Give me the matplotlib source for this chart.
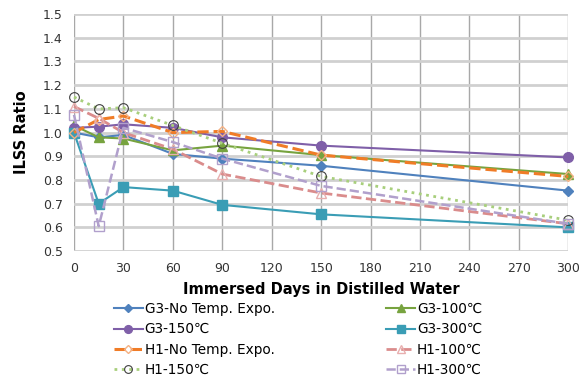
import numpy as np
from matplotlib import pyplot as plt

days = [0, 15, 30, 60, 90, 150, 300]

g3_none = [1.00, 0.98, 0.99, 0.91, 0.89, 0.86, 0.755]
g3_100 = [1.03, 0.98, 0.975, 0.925, 0.945, 0.905, 0.825]
g3_150 = [1.02, 1.025, 1.035, 1.02, 0.98, 0.945, 0.895]
g3_300 = [1.00, 0.70, 0.77, 0.755, 0.695, 0.655, 0.60]
h1_none = [1.00, 1.055, 1.07, 1.00, 1.005, 0.905, 0.815]
h1_100 = [1.11, 1.06, 1.00, 0.93, 0.825, 0.745, 0.615]
h1_150 = [1.15, 1.10, 1.105, 1.03, 0.955, 0.815, 0.63]
h1_300 = [1.075, 0.605, 1.02, 0.96, 0.89, 0.775, 0.615]

fig = plt.figure(figsize=(5.85, 3.81), dpi=100)
ax = fig.add_axes([0.1265, 0.341, 0.845, 0.622])

l1, = ax.plot(days, g3_none, '-', color='#4F81BD', lw=1.5, marker='D', ms=5, label='G3-No Temp. Expo.')
l2, = ax.plot(days, g3_100, '-', color='#77A33F', lw=1.5, marker='^', ms=7, label='G3-100℃')
l3, = ax.plot(days, g3_150, '-', color='#7F5FA8', lw=1.5, marker='o', ms=7, label='G3-150℃')
l4, = ax.plot(days, g3_300, '-', color='#3A9DB5', lw=1.5, marker='s', ms=6.5, label='G3-300℃')
l5, = ax.plot(days, h1_none, '--', color='#F07C27', lw=2.2, marker='D', ms=5.5, mfc='none', mec='#F4B183', label='H1-No Temp. Expo.')
l6, = ax.plot(days, h1_100, '--', color='#DA8C8C', lw=2.0, marker='^', ms=7, mfc='none', mec='#E8AFAF', label='H1-100℃')
l7, = ax.plot(days, h1_150, ':', color='#A8CF7C', lw=2.0, marker='o', ms=7, mfc='none', mec='#404040', mew=0.8, label='H1-150℃')
l8, = ax.plot(days, h1_300, '--', color='#B1A0CC', lw=1.8, marker='s', ms=7, mfc='none', mec='#B1A0CC', label='H1-300℃')
for l in [l1, l2, l3, l4, l5, l6, l7, l8]:
    l.set_clip_on(False)

ax.set_xlim(0, 300)
ax.set_ylim(0.5, 1.5)
ax.set_xticks(np.arange(0, 301, 30))
ax.set_yticks(np.arange(0.5, 1.51, 0.1))
ax.set_yticklabels(['%.1f' % v for v in np.arange(0.5, 1.51, 0.1)])
ax.tick_params(labelsize=9, length=0, colors='#333333', pad=8)
ax.yaxis.grid(True, color='#D0D0D0', lw=2)
ax.xaxis.grid(True, color='#A8A8A8', lw=1)
for s in ax.spines.values():
    s.set_visible(False)
ax.set_axisbelow(True)

ax.set_xlabel('Immersed Days in Distilled Water', fontsize=10.5, fontweight='bold', labelpad=5)
ax.set_ylabel('ILSS Ratio', fontsize=10.5, fontweight='bold', labelpad=10)

order = [l1, l3, l5, l7, l2, l4, l6, l8]
leg = ax.legend(order, [l.get_label() for l in order],
                loc='upper left', bbox_to_anchor=(0.081, -0.215), ncol=2, frameon=False,
                fontsize=9.8, handlelength=2.1, columnspacing=8.2, labelspacing=0.46,
                handletextpad=0.15, borderaxespad=0, borderpad=0, markerscale=0.8)

fig.savefig('out.png', dpi=100)
